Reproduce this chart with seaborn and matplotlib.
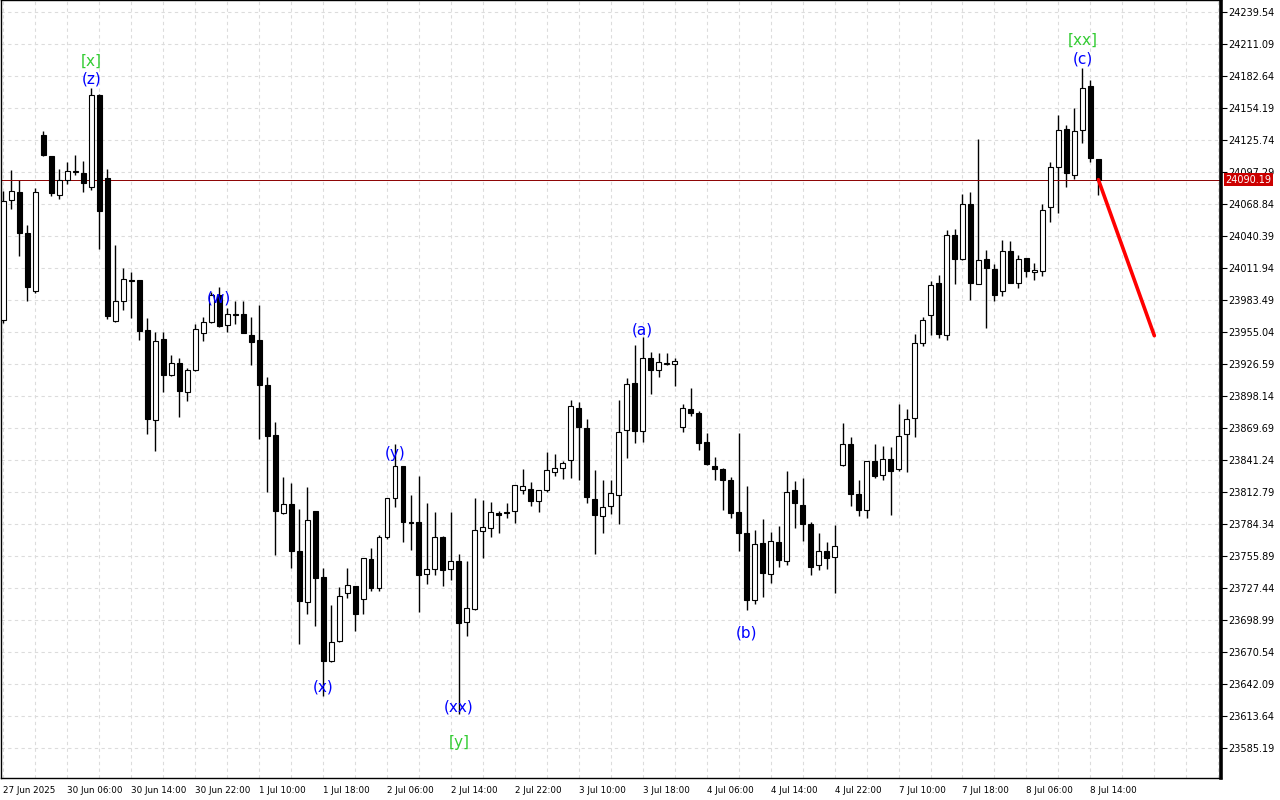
import numpy as np
import pandas as pd
import matplotlib
matplotlib.use("Agg")
import matplotlib.pyplot as plt
import matplotlib.transforms as mtransforms
import seaborn as sns

# Hourly OHLC candles (bar index = position on the time axis)
opens = [
    23965.4, 24072.1, 24079.2, 24043.0, 23990.8, 24130.2, 24111.2, 24076.8, 24089.9, 24097.3,
    24096.1, 24083.7, 24165.5, 24091.7, 23964.5, 23982.3, 24001.2, 24001.0, 23956.5, 23876.5,
    23948.5, 23916.5, 23927.2, 23901.7, 23921.0, 23954.1, 23963.6, 23987.6, 23961.0, 23971.0,
    23970.7, 23952.3, 23947.6, 23907.6, 23863.2, 23793.8, 23801.8, 23760.0, 23714.7, 23795.6,
    23736.9, 23662.2, 23680.3, 23722.7, 23728.9, 23717.4, 23752.9, 23727.1, 23772.1, 23807.2,
    23835.9, 23786.3, 23785.8, 23739.6, 23744.0, 23772.7, 23744.3, 23751.1, 23696.6, 23708.1,
    23777.8, 23780.5, 23793.8, 23794.7, 23795.6, 23814.3, 23815.2, 23804.5, 23813.9, 23829.9,
    23833.8, 23840.9, 23887.2, 23869.4, 23806.3, 23791.2, 23800.0, 23809.8, 23867.6, 23909.4,
    23866.7, 23931.6, 23921.0, 23926.6, 23926.3, 23869.9, 23886.3, 23882.7, 23856.9, 23835.9,
    23833.2, 23823.2, 23794.7, 23776.3, 23716.5, 23767.4, 23739.6, 23768.0, 23751.1, 23814.5,
    23801.2, 23784.3, 23747.6, 23760.0, 23754.7, 23836.5, 23855.2, 23810.7, 23796.5, 23840.3,
    23827.6, 23841.8, 23832.9, 23864.1, 23878.3, 23945.2, 23969.9, 23998.6, 23952.3, 24041.3,
    24019.6, 24068.5, 23997.4, 24019.6, 24010.8, 23991.2, 24026.8, 23998.3, 24020.5, 24008.1,
    24009.0, 24065.9, 24101.4, 24135.2, 24094.3, 24134.3, 24173.5, 24108.6,
]
highs = [
    24080.4, 24098.8, 24089.9, 24050.1, 24083.0, 24133.7, 24111.2, 24099.7, 24105.9, 24112.1,
    24106.8, 24171.7, 24166.0, 24099.7, 24032.1, 24011.6, 24008.1, 24001.0, 23967.2, 23954.7,
    23954.7, 23934.3, 23931.6, 23923.0, 23961.9, 23967.7, 23989.9, 23994.4, 23975.7, 23982.6,
    23982.6, 23967.7, 23979.0, 23914.4, 23874.7, 23825.8, 23820.1, 23797.6, 23816.9, 23795.6,
    23744.9, 23712.3, 23728.3, 23744.9, 23728.9, 23753.8, 23762.7, 23774.3, 23807.2, 23855.2,
    23835.9, 23810.1, 23827.2, 23803.0, 23795.0, 23773.6, 23795.0, 23757.4, 23751.4, 23807.2,
    23805.4, 23803.6, 23795.9, 23803.0, 23818.7, 23833.2, 23821.4, 23814.3, 23848.0, 23845.9,
    23840.3, 23894.6, 23892.8, 23877.4, 23832.3, 23823.4, 23823.4, 23894.6, 23913.8, 23943.4,
    23949.9, 23937.2, 23936.1, 23936.1, 23931.6, 23890.7, 23905.0, 23884.5, 23864.9, 23843.6,
    23833.8, 23826.1, 23864.9, 23817.8, 23778.7, 23788.7, 23776.9, 23782.5, 23831.4, 23822.5,
    23825.2, 23786.1, 23776.3, 23768.3, 23782.8, 23874.1, 23861.4, 23823.4, 23840.1, 23855.2,
    23853.4, 23852.1, 23890.7, 23886.3, 23953.2, 23967.7, 24000.4, 24005.4, 24045.4, 24046.3,
    24077.7, 24079.2, 24126.6, 24027.9, 24015.2, 24036.8, 24035.6, 24023.5, 24020.5, 24016.4,
    24068.5, 24106.2, 24147.7, 24138.8, 24153.9, 24189.5, 24178.8, 24108.6,
]
lows = [
    23963.0, 24064.1, 24022.6, 23982.6, 23989.1, 24111.0, 24075.3, 24072.6, 24086.0, 24094.3,
    24078.9, 24081.0, 24028.5, 23965.9, 23963.5, 23973.9, 23966.8, 23947.3, 23863.7, 23848.9,
    23901.0, 23916.0, 23878.8, 23893.0, 23920.5, 23947.0, 23963.0, 23958.8, 23954.4, 23961.9,
    23953.5, 23925.4, 23859.6, 23812.1, 23756.1, 23792.9, 23744.9, 23677.3, 23704.5, 23693.3,
    23631.4, 23661.5, 23679.5, 23718.2, 23688.6, 23704.0, 23724.7, 23724.1, 23770.7, 23798.8,
    23767.7, 23760.9, 23706.3, 23731.2, 23739.0, 23728.6, 23734.2, 23615.1, 23684.7, 23707.5,
    23753.5, 23772.1, 23775.7, 23789.4, 23784.6, 23810.7, 23800.0, 23795.2, 23812.8, 23827.2,
    23823.7, 23824.6, 23822.8, 23803.2, 23757.0, 23775.7, 23792.6, 23783.7, 23842.4, 23855.7,
    23856.6, 23899.6, 23914.7, 23925.0, 23906.7, 23865.5, 23879.7, 23849.8, 23836.5, 23822.8,
    23796.1, 23789.0, 23760.3, 23707.6, 23712.9, 23718.8, 23731.6, 23746.3, 23747.6, 23780.1,
    23768.9, 23738.7, 23743.1, 23744.0, 23722.7, 23836.0, 23799.7, 23791.2, 23789.0, 23824.9,
    23823.2, 23791.7, 23831.2, 23829.9, 23861.0, 23942.6, 23952.1, 23949.4, 23947.6, 23997.4,
    24019.0, 23983.2, 23997.0, 23958.3, 23982.6, 23986.8, 23998.0, 23993.5, 24003.9, 24001.0,
    24004.5, 24052.2, 24060.5, 24083.3, 24090.8, 24122.8, 24105.9, 24076.5,
]
closes = [
    24070.9, 24080.1, 24042.4, 23994.4, 24079.2, 24111.8, 24078.0, 24089.9, 24097.9, 24097.9,
    24087.2, 24165.5, 24062.3, 23968.6, 23982.3, 24001.9, 24000.4, 23955.3, 23877.4, 23946.7,
    23916.5, 23927.2, 23902.3, 23921.0, 23957.1, 23963.3, 23987.6, 23960.1, 23970.7, 23970.1,
    23953.9, 23945.5, 23907.6, 23861.9, 23795.6, 23801.8, 23759.7, 23715.2, 23787.6, 23735.7,
    23661.9, 23678.8, 23720.0, 23729.8, 23704.0, 23753.8, 23727.1, 23772.5, 23807.2, 23835.9,
    23786.3, 23785.2, 23739.2, 23744.3, 23772.5, 23742.8, 23751.1, 23695.7, 23709.4, 23778.7,
    23781.4, 23794.7, 23791.7, 23793.5, 23818.7, 23817.8, 23804.5, 23814.3, 23832.0, 23834.1,
    23838.3, 23889.0, 23869.9, 23807.7, 23792.0, 23799.1, 23811.6, 23865.8, 23908.5, 23866.4,
    23931.6, 23921.0, 23928.1, 23927.0, 23929.0, 23887.2, 23882.4, 23856.1, 23837.0, 23832.6,
    23822.8, 23793.5, 23776.0, 23716.5, 23766.5, 23740.5, 23768.9, 23752.0, 23812.5, 23802.4,
    23783.7, 23745.5, 23760.0, 23753.8, 23764.7, 23855.2, 23810.7, 23796.5, 23840.1, 23827.2,
    23841.8, 23831.2, 23862.3, 23877.4, 23945.2, 23965.4, 23996.5, 23953.0, 24041.3, 24019.6,
    24068.5, 23998.3, 24018.8, 24011.6, 23987.6, 24026.8, 23998.3, 24019.6, 24009.0, 24009.9,
    24063.2, 24101.4, 24134.3, 24096.1, 24133.5, 24171.7, 24109.4, 24090.19,
]

# time axis labels (one every 8 bars)
date_tick_bars = [0, 8, 16, 24, 32, 40, 48, 56, 64, 72, 80, 88, 96, 104, 112, 120, 128, 136]
date_tick_labels = [
    "27 Jun 2025", "30 Jun 06:00", "30 Jun 14:00", "30 Jun 22:00", "1 Jul 10:00",
    "1 Jul 18:00", "2 Jul 06:00", "2 Jul 14:00", "2 Jul 22:00", "3 Jul 10:00",
    "3 Jul 18:00", "4 Jul 06:00", "4 Jul 14:00", "4 Jul 22:00", "7 Jul 10:00",
    "7 Jul 18:00", "8 Jul 06:00", "8 Jul 14:00",
]

# price axis labels
price_ticks = [
    23585.19, 23613.64, 23642.09, 23670.54, 23698.99, 23727.44, 23755.89, 23784.34,
    23812.79, 23841.24, 23869.69, 23898.14, 23926.59, 23955.04, 23983.49, 24011.94,
    24040.39, 24068.84, 24097.29, 24125.74, 24154.19, 24182.64, 24211.09, 24239.54,
]
last_price = 24090.19

# wave count labels
wave_text = ["[x]", "(z)", "(w)", "(x)", "(y)", "(xx)", "[y]", "(a)", "(b)", "[xx]", "(c)"]
wave_bar = [11, 11, 27, 40, 49, 57, 57, 80, 93, 135, 135]
wave_price = [24195.1, 24180.0, 23985.3, 23639.4, 23846.6, 23621.6, 23589.6,
              23956.8, 23687.4, 24213.7, 24197.7]
wave_kind = ["major", "minor", "minor", "minor", "minor", "minor", "major",
             "minor", "minor", "major", "minor"]
WAVE_COLORS = {"major": "#33cc33", "minor": "#0000ff"}

# projected move
forecast_bar = [137, 144]
forecast_price = [24090.19, 23951.5]

sns.set_theme(style="white")
plt.rcParams["font.family"] = ["DejaVu Sans"]

candles = pd.DataFrame({
    "bar": np.arange(len(opens)),
    "open": opens, "high": highs, "low": lows, "close": closes,
})
candles["bull"] = candles["close"] >= candles["open"]

fig = plt.figure(figsize=(12.8, 8), dpi=100)
ax = fig.add_axes([0.0008, 0.0275, 0.9531, 0.9725])
ax.set_facecolor("white")

ax.set_xlim(-0.29, 152.34)
ax.set_ylim(23558.3, 24249.9)

# grid: vertical every 4 bars, horizontal on each price tick
ax.set_xticks(date_tick_bars)
ax.set_xticklabels(date_tick_labels, fontsize=6.3, ha="left")
ax.set_xticks([b for b in range(0, 153, 4) if b not in date_tick_bars], minor=True)
ax.yaxis.tick_right()
ax.set_yticks(price_ticks)
ax.set_yticklabels([f"{p:.2f}" for p in price_ticks], fontsize=7)
ax.grid(True, which="both", axis="x", color="#dcdcdc", linestyle=(0, (3, 3)), linewidth=0.8)
ax.grid(True, which="major", axis="y", color="#dcdcdc", linestyle=(0, (3, 3)), linewidth=0.8)
ax.set_axisbelow(True)
ax.tick_params(axis="x", which="major", direction="out", length=4, width=0.8,
               pad=1.5, colors="black")
ax.tick_params(axis="x", which="minor", length=0)
ax.tick_params(axis="y", which="major", direction="out", length=4, width=0.8,
               pad=1.5, colors="black", right=True, left=False)

for side in ["left", "top", "bottom"]:
    ax.spines[side].set_color("black")
    ax.spines[side].set_linewidth(1.0)
ax.spines["right"].set_color("black")
ax.spines["right"].set_linewidth(2.6)

# candles
ax.vlines(candles["bar"], candles["low"], candles["high"], color="black",
          linewidth=1.0, zorder=2)
ax.bar(candles["bar"], candles["close"] - candles["open"], bottom=candles["open"],
       width=0.62, color=np.where(candles["bull"], "white", "black"),
       edgecolor="black", linewidth=0.8, zorder=3)

# last price line and box
ax.axhline(last_price, color="#8c0000", linewidth=0.7, zorder=2.5)
trans = mtransforms.blended_transform_factory(ax.transAxes, ax.transData)
ax.text(1.0035, last_price, f"{last_price:.2f}", transform=trans, ha="left",
        va="center", fontsize=7, color="white", clip_on=False, zorder=6,
        bbox=dict(boxstyle="square,pad=0.18", fc="#cc0000", ec="none"))

# projected move
sns.lineplot(x=forecast_bar, y=forecast_price, ax=ax, color="#ff0000",
             linewidth=2.6, zorder=4)

# wave labels
for txt, b, p, k in zip(wave_text, wave_bar, wave_price, wave_kind):
    ax.text(b, p, txt, color=WAVE_COLORS[k], fontsize=11, ha="center",
            va="center", zorder=5)

ax.set_xlabel("")
ax.set_ylabel("")
fig.savefig("out.png", dpi=100)
